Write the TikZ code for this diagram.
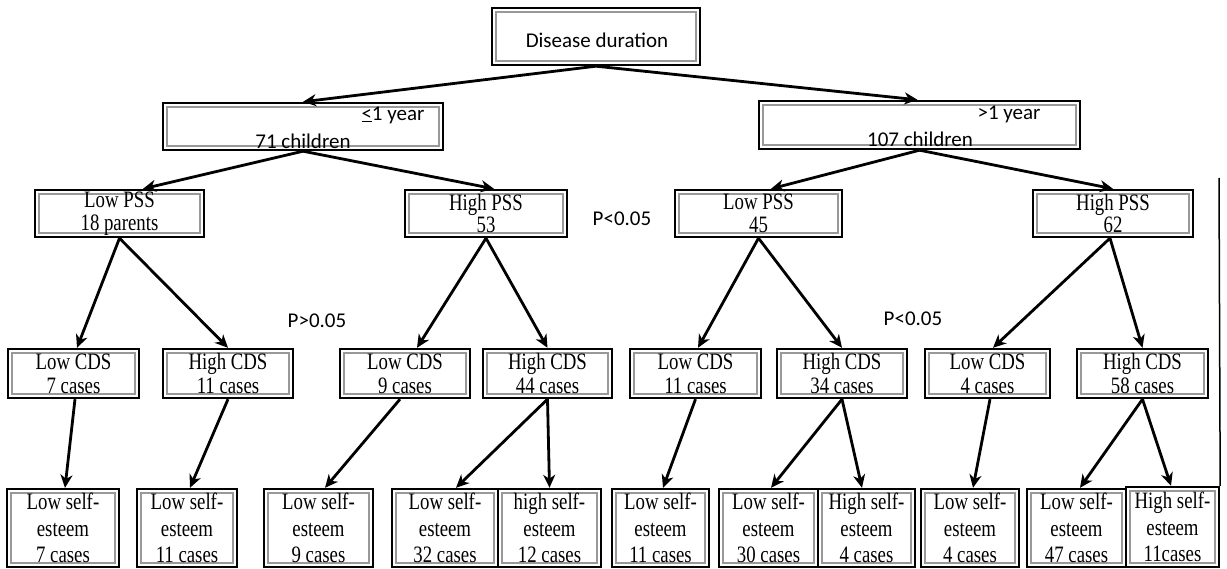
\documentclass[tikz,border=0pt]{standalone}
\usepackage{fontspec}
\setmainfont{Liberation Serif}
\newfontfamily\calfont{Carlito}
\newfontfamily\tmsfont[FakeStretch=0.8]{Liberation Serif}
\usetikzlibrary{arrows.meta}
\begin{document}
\begin{tikzpicture}[x=1pt,y=-1pt,
  box/.style={draw=black, line width=2.4pt, fill=white, inner sep=0pt, align=center,
    path picture={\draw[black!40, line width=1.5pt]
      ([shift={(4pt,-4pt)}]path picture bounding box.north west) rectangle
      ([shift={(-4pt,4pt)}]path picture bounding box.south east);}},
  r3/.style={box, minimum height=47pt, font=\tmsfont\fontsize{23.5}{22.5}\selectfont},
  r4/.style={box, minimum height=49pt, font=\tmsfont\fontsize{23.5}{24}\selectfont},
  r5/.style={box, minimum height=78pt, font=\tmsfont\fontsize{23.5}{26.5}\selectfont},
  cal/.style={inner sep=0pt, font=\calfont\fontsize{21}{24}\selectfont},
  arr/.style={line width=2.8pt, -{Stealth[length=13pt,width=12pt,inset=4pt]}}
]
\useasboundingbox[fill=white] (0,0) rectangle (1227,569);

% level 1
\node[box, minimum width=208pt, minimum height=57pt] (top) at (596,36.5) {};
\node[cal] (toptxt) at (597,40) {Disease duration};

% level 2
\node[box, minimum width=280pt, minimum height=47pt] (le1) at (303,126.5) {};
\node[cal] (le1a) at (393,115) {\underline{<}1 year};
\node[cal] (le1b) at (303,141) {71 children};
\node[box, minimum width=321pt, minimum height=48pt] (gt1) at (919.5,125) {};
\node[cal] (gt1a) at (1009,114) {>1 year};
\node[cal] (gt1b) at (920,139) {107 children};

% level 3
\node[r3, minimum width=169pt] (lpss1) at (119.5,213.5) {Low PSS\\18 parents};
\node[r3, minimum width=162pt] (hpss1) at (486,213.5) {High PSS\\53};
\node[r3, minimum width=167pt] (lpss2) at (758.5,213.5) {Low PSS\\45};
\node[r3, minimum width=160pt] (hpss2) at (1113,213.5) {High PSS\\62};

% level 4
\node[r4, minimum width=131pt] (lcds1) at (73.5,373.5) {Low CDS\\7 cases};
\node[r4, minimum width=130pt] (hcds1) at (228,373.5) {High CDS\\11 cases};
\node[r4, minimum width=130pt] (lcds2) at (405,373.5) {Low CDS\\9 cases};
\node[r4, minimum width=129pt] (hcds2) at (547.5,373.5) {High CDS\\44 cases};
\node[r4, minimum width=131pt] (lcds3) at (695.5,373.5) {Low CDS\\11 cases};
\node[r4, minimum width=130pt] (hcds3) at (842,373.5) {High CDS\\34 cases};
\node[r4, minimum width=125pt] (lcds4) at (987.5,373.5) {Low CDS\\4 cases};
\node[r4, minimum width=131pt] (hcds4) at (1142.5,373.5) {High CDS\\58 cases};

% level 5
\node[r5, minimum width=112pt] (s1) at (63,528) {Low self-\\esteem\\7 cases};
\node[r5, minimum width=100pt] (s2) at (187,528) {Low self-\\esteem\\11 cases};
\node[r5, minimum width=109pt] (s3) at (318.5,528) {Low self-\\esteem\\9 cases};
\node[r5, minimum width=106pt] (s4) at (445,528) {Low self-\\esteem\\32 cases};
\node[r5, minimum width=103pt] (s5) at (549.5,528) {high self-\\esteem\\12 cases};
\node[r5, minimum width=97pt] (s6) at (660.5,528) {Low self-\\esteem\\11 cases};
\node[r5, minimum width=99pt] (s7) at (768.5,528) {Low self-\\esteem\\30 cases};
\node[r5, minimum width=97pt] (s8) at (866.5,528) {High self-\\esteem\\4 cases};
\node[r5, minimum width=98pt] (s9) at (970,528) {Low self-\\esteem\\4 cases};
\node[r5, minimum width=99pt] (s10) at (1076.5,528) {Low self-\\esteem\\47 cases};
\node[r5, minimum width=93pt, minimum height=80pt] (s11) at (1172.5,527) {High self-\\esteem\\11cases};

% p-values
\node[cal] (p1) at (622,219) {P<0.05};
\node[cal] (p2) at (317,321) {P>0.05};
\node[cal] (p3) at (913,319) {P<0.05};

% right border line
\coordinate (rtop) at (1219,178);
\draw[line width=1.5pt] (s11.north east) -- (rtop);

% connectors level 1 -> 2
\draw[arr] (top.south) -- (le1.north);
\draw[arr] (top.south) -- ([xshift=-2pt]gt1.north);
% level 2 -> 3
\draw[arr] (le1.south) -- ([xshift=23.5pt]lpss1.north);
\draw[arr] (le1.south) -- ([xshift=8pt]hpss1.north);
\draw[arr] (gt1.south) -- ([xshift=12.5pt]lpss2.north);
\draw[arr] (gt1.south) -- (hpss2.north);
% level 3 -> 4
\draw[arr] (lpss1.south) -- ([xshift=3.5pt]lcds1.north);
\draw[arr] (lpss1.south) -- (hcds1.north);
\draw[arr] (hpss1.south) -- ([xshift=12pt]lcds2.north);
\draw[arr] (hpss1.south) -- (hcds2.north);
\draw[arr] (lpss2.south) -- ([xshift=2.5pt]lcds3.north);
\draw[arr] (lpss2.south) -- (hcds3.north);
\draw[arr] ([xshift=-3pt]hpss2.south) -- ([xshift=5.5pt]lcds4.north);
\draw[arr] ([xshift=-3pt]hpss2.south) -- (hcds4.north);
% level 4 -> 5
\draw[arr] ([xshift=1.5pt]lcds1.south) -- ([xshift=2pt]s1.north);
\draw[arr] (hcds1.south) -- ([xshift=3pt]s2.north);
\draw[arr] ([xshift=-5pt]lcds2.south) -- ([xshift=6.5pt]s3.north);
\draw[arr] (hcds2.south) -- ([xshift=11pt]s4.north);
\draw[arr] (hcds2.south) -- (s5.north);
\draw[arr] (lcds3.south) -- ([xshift=2.5pt]s6.north);
\draw[arr] (hcds3.south) -- ([xshift=2.5pt]s7.north);
\draw[arr] (hcds3.south) -- ([xshift=-4.5pt]s8.north);
\draw[arr] ([xshift=2.5pt]lcds4.south) -- ([xshift=3pt]s9.north);
\draw[arr] (hcds4.south) -- ([xshift=3.5pt]s10.north);
\draw[arr] (hcds4.south) -- ([xshift=-1.5pt]s11.north);
\end{tikzpicture}
\end{document}
